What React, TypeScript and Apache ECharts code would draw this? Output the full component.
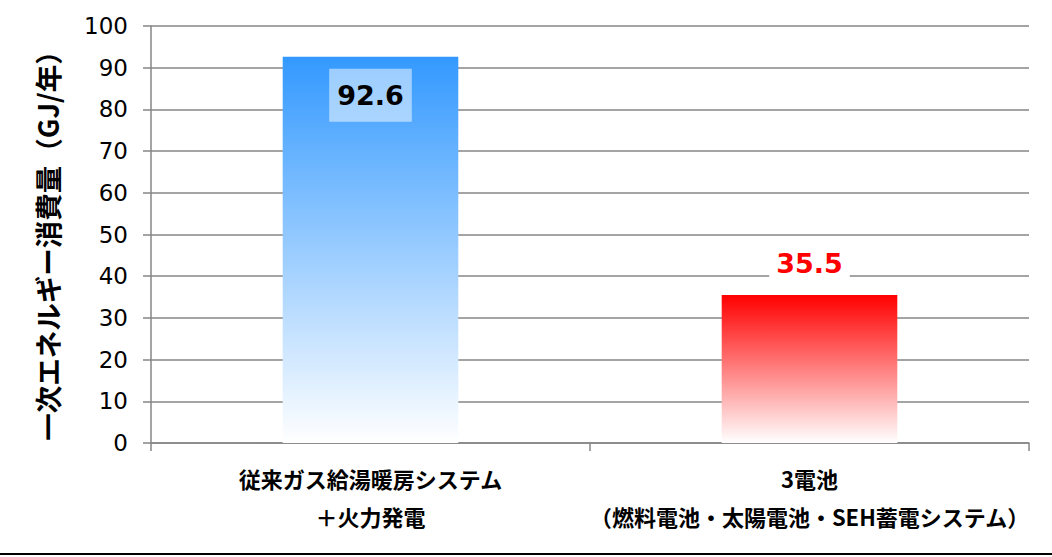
import React, { useEffect, useRef } from "react";
import * as echarts from "echarts";

const categories = [
  "従来ガス給湯暖房システム\n＋火力発電",
  "3電池\n（燃料電池・太陽電池・SEH蓄電システム）",
];
const values = [92.6, 35.5];
const yTicks = { min: 0, max: 100, interval: 10 };
const yTitle = "一次エネルギー消費量（GJ/年）";

const FONT = "'DejaVu Sans', 'Noto Sans CJK JP', sans-serif";
const CJK = "'Noto Sans CJK JP', 'DejaVu Sans', sans-serif";

export default function App() {
  const ref = useRef<HTMLDivElement>(null);
  useEffect(() => {
    if (!ref.current) return;
    const chart = echarts.init(ref.current, undefined, { renderer: "svg" });
    const grad = (c: string) =>
      new echarts.graphic.LinearGradient(0, 0, 0, 1, [
        { offset: 0, color: c },
        { offset: 1, color: "#ffffff" },
      ]);
    chart.setOption({
      animation: false,
      backgroundColor: "#ffffff",
      grid: { left: 151, right: 23, top: 26, bottom: 114 },
      xAxis: {
        type: "category",
        data: categories,
        axisLine: { lineStyle: { color: "#868686", width: 1.5 } },
        axisTick: { show: true, length: 8, lineStyle: { color: "#868686", width: 1.5 } },
        axisLabel: {
          interval: 0,
          fontFamily: CJK,
          fontWeight: "bold",
          fontSize: 22,
          color: "#000000",
          lineHeight: 38,
          margin: 16,
        },
      },
      yAxis: {
        type: "value",
        min: yTicks.min,
        max: yTicks.max,
        interval: yTicks.interval,
        name: yTitle,
        nameLocation: "middle",
        nameGap: 90,
        nameRotate: 90,
        nameTextStyle: {
          fontFamily: CJK,
          fontWeight: "bold",
          fontSize: 27.5,
          color: "#000000",
          padding: [0, 9, 0, 0],
        },
        axisLine: { show: true, lineStyle: { color: "#868686", width: 1.5 } },
        axisTick: { show: true, length: 8, lineStyle: { color: "#868686", width: 1.5 } },
        splitLine: { lineStyle: { color: "#868686", width: 1.5 } },
        axisLabel: {
          fontFamily: FONT,
          fontSize: 23,
          color: "#000000",
          margin: 23,
        },
      },
      series: [
        {
          type: "bar",
          barWidth: "40%",
          data: [
            {
              value: values[0],
              itemStyle: { color: grad("#3399ff") },
              label: {
                show: true,
                position: "insideTop",
                distance: 12,
                fontFamily: FONT,
                fontWeight: "bold",
                fontSize: 27,
                color: "#000000",
                backgroundColor: "rgba(255,255,255,0.5)",
                padding: [13, 8, 13, 8],
              },
            },
            {
              value: values[1],
              itemStyle: { color: grad("#ff0000") },
              label: {
                show: true,
                position: "top",
                distance: 5,
                fontFamily: FONT,
                fontWeight: "bold",
                fontSize: 27,
                color: "#ff0000",
                backgroundColor: "#ffffff",
                padding: [13, 7, 13, 7],
              },
            },
          ],
        },
      ],
      graphic: [
        {
          type: "line",
          shape: { x1: 0, y1: 554, x2: 1052, y2: 554 },
          style: { stroke: "#000000", lineWidth: 2 },
        },
      ],
    });
    return () => chart.dispose();
  }, []);
  return (
    <div
      ref={ref}
      style={{ position: "fixed", left: 0, top: 0, width: 1052, height: 557 }}
    />
  );
}
